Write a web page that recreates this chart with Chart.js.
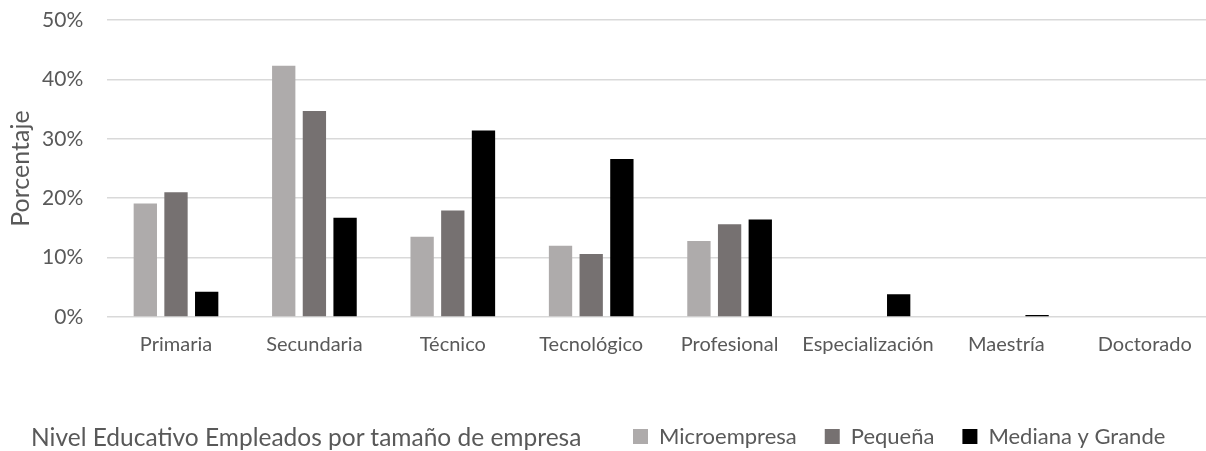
<!DOCTYPE html>
<html>
<head>
<meta charset="utf-8">
<script src="https://cdn.jsdelivr.net/npm/chart.js@4/dist/chart.umd.min.js"></script>
<style>
html,body{margin:0;padding:0;background:#fff;overflow:hidden;width:1206px;height:451px;}
#wrap{position:relative;width:1206px;height:451px;overflow:hidden;}
#c{position:absolute;left:0;top:-16px;}
#title{position:absolute;left:31px;top:425px;font-family:Lato,"Open Sans",sans-serif;font-size:24.5px;line-height:1;color:#595959;white-space:nowrap;}
</style>
</head>
<body>
<div id="wrap">
<canvas id="c" width="1216" height="467"></canvas>
<div id="title">Nivel Educativo Empleados por tamaño de empresa</div>
</div>
<script>
const categories = ["Primaria","Secundaria","Técnico","Tecnológico","Profesional","Especialización","Maestría","Doctorado"];
const microempresa = [19.1, 42.3, 13.5, 12.0, 12.8, 0, 0, 0];
const pequena = [21.0, 34.7, 17.95, 10.6, 15.6, 0, 0, 0];
const medianaGrande = [4.25, 16.7, 31.4, 26.6, 16.4, 3.85, 0.35, 0];
const yTicks = [0, 10, 20, 30, 40, 50];

const FONT = 'Lato, "Open Sans", sans-serif';
const GRAY = '#595959';

const legendPlace = {
  id: 'legendPlace',
  afterLayout(chart) {
    const lg = chart.legend;
    if (!lg) return;
    const h = lg.height;
    lg.left = 605; lg.right = 1216;
    lg.top = 413.5; lg.bottom = lg.top + h;
  }
};

new Chart(document.getElementById('c'), {
  type: 'bar',
  data: {
    labels: categories,
    datasets: [
      {label: 'Microempresa', data: microempresa, backgroundColor: '#AEABAB'},
      {label: 'Pequeña', data: pequena, backgroundColor: '#767171'},
      {label: 'Mediana y Grande', data: medianaGrande, backgroundColor: '#000000'}
    ]
  },
  plugins: [legendPlace],
  options: {
    responsive: false,
    animation: false,
    datasets: {bar: {categoryPercentage: 0.665, barPercentage: 0.76}},
    layout: {padding: {top: 0, right: 2, left: 0, bottom: 0}},
    plugins: {
      legend: {
        position: 'bottom',
        align: 'start',
        labels: {
          boxWidth: 15, boxHeight: 15, padding: 28,
          color: GRAY,
          font: {family: FONT, size: 22}
        }
      },
      title: {display: false},
      tooltip: {enabled: false}
    },
    scales: {
      x: {
        grid: {display: false, drawTicks: false},
        border: {display: false},
        ticks: {color: GRAY, font: {family: FONT, size: 20}, padding: 15.5, maxRotation: 0, autoSkip: false},
        afterFit: s => { s.height = 74; }
      },
      y: {
        min: 0, max: 50,
        afterBuildTicks: s => { s.ticks = yTicks.map(v => ({value: v})); },
        grid: {color: '#d9d9d9', lineWidth: 1.5, drawTicks: false},
        border: {display: false},
        ticks: {color: GRAY, font: {family: FONT, size: 21}, padding: 23.5, callback: v => v + '%'},
        title: {display: true, text: 'Porcentaje', color: GRAY, font: {family: FONT, size: 25}, padding: {top: 6, bottom: 0}},
        afterFit: s => { s.width = 106.8; }
      }
    }
  }
});
</script>
</body>
</html>
